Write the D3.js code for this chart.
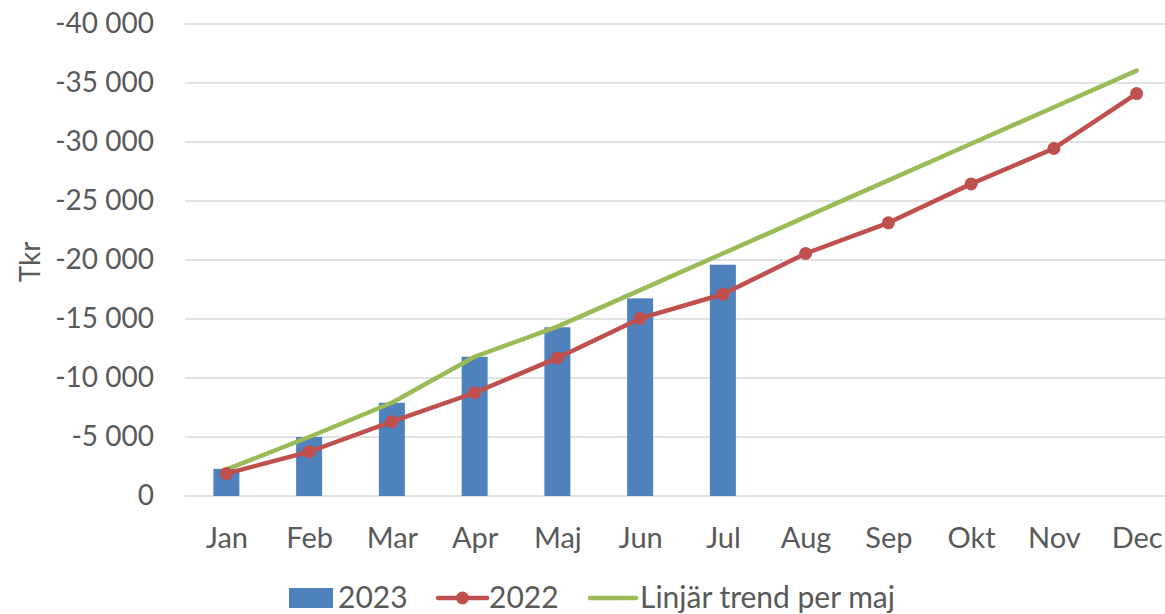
<!DOCTYPE html>
<html><head><meta charset="utf-8">
<script src="https://cdn.jsdelivr.net/npm/d3@7"></script>
<style>
html,body{margin:0;padding:0;background:#fff;}
svg{display:block;font-family:Lato,"Open Sans",sans-serif;}
</style></head>
<body>
<svg id="chart" width="1165" height="614"></svg>
<script>
const months = ["Jan","Feb","Mar","Apr","Maj","Jun","Jul","Aug","Sep","Okt","Nov","Dec"];
const values2023 = [-2300,-5000,-7900,-11800,-14300,-16750,-19600];
const values2022 = [-1900,-3750,-6300,-8750,-11700,-15050,-17100,-20550,-23150,-26450,-29450,-34100];
const trendValues = [-2250,-5000,-7900,-11800,-14350,-17450,-20550,-23650,-26750,-29850,-32950,-36050];
const yTicks = [0,-5000,-10000,-15000,-20000,-25000,-30000,-35000,-40000];
const seriesNames = ["2023","2022","Linjär trend per maj"];

const colors = {blue:"#4F81BD", red:"#C0504D", green:"#9BBB59", grid:"#d9d9d9", text:"#595959"};

const svg = d3.select("#chart");
const plotLeft = 185, plotRight = 1178, plotTop = 24, plotBottom = 496;

const x = d3.scalePoint().domain(months).range([plotLeft, plotRight]).padding(0.5);
const step = x.step();
const barW = step * 0.314;
const y = d3.scaleLinear().domain([0, -40000]).range([plotBottom, plotTop]);

const loc = d3.formatLocale({decimal:",", thousands:" ", grouping:[3], currency:["",""], minus:"-"});
const fmt = loc.format(",d");

// gridlines
svg.append("g").selectAll("line").data(yTicks).join("line")
  .attr("x1", plotLeft).attr("x2", 1165)
  .attr("y1", d => y(d)).attr("y2", d => y(d))
  .attr("stroke", colors.grid).attr("stroke-width", 1.5);

// y axis
const yAxis = svg.append("g").attr("transform", `translate(${plotLeft},0)`)
  .call(d3.axisLeft(y).tickValues(yTicks).tickFormat(fmt).tickSize(0).tickPadding(31));
yAxis.select(".domain").remove();
yAxis.selectAll("text").attr("fill", colors.text).style("font-size","28px").style("font-family","Lato");

// x axis
const xAxis = svg.append("g").attr("transform", `translate(0,${plotBottom})`)
  .call(d3.axisBottom(x).tickSize(0).tickPadding(31));
xAxis.select(".domain").remove();
xAxis.selectAll("text").attr("fill", colors.text).style("font-size","29px").style("font-family","Lato");

// y title
svg.append("text").attr("transform", `translate(40,${(plotTop+plotBottom)/2 + 2}) rotate(-90)`)
  .attr("text-anchor","middle").attr("fill", colors.text)
  .style("font-size","28px").text("Tkr");

// bars
svg.append("g").selectAll("rect").data(values2023).join("rect")
  .attr("x", (d,i) => x(months[i]) - barW/2)
  .attr("width", barW)
  .attr("y", d => y(d))
  .attr("height", d => y(0) - y(d))
  .attr("fill", colors.blue);

// trend line
const line = d3.line().x((d,i) => x(months[i])).y(d => y(d));
svg.append("path").datum(trendValues).attr("d", line)
  .attr("fill","none").attr("stroke", colors.green).attr("stroke-width", 4.5)
  .attr("stroke-linejoin","round").attr("stroke-linecap","round");

// 2022 line
svg.append("path").datum(values2022).attr("d", line)
  .attr("fill","none").attr("stroke", colors.red).attr("stroke-width", 4.5)
  .attr("stroke-linejoin","round").attr("stroke-linecap","round");
svg.append("g").selectAll("circle").data(values2022).join("circle")
  .attr("cx", (d,i) => x(months[i])).attr("cy", d => y(d)).attr("r", 6.5)
  .attr("fill", colors.red);

// legend
const lg = svg.append("g").attr("fill", colors.text);
const ly = 598;
function legendText(xp, t) {
  lg.append("text").attr("x", xp).attr("y", ly - 1)
    .attr("dy","0.36em").attr("fill", colors.text)
    .style("font-size","30px").text(t);
}
lg.append("rect").attr("x", 289).attr("y", ly-10).attr("width", 44).attr("height", 20).attr("fill", colors.blue);
legendText(338, seriesNames[0]);
lg.append("line").attr("x1", 438).attr("x2", 487).attr("y1", ly).attr("y2", ly)
  .attr("stroke", colors.red).attr("stroke-width", 4.5).attr("stroke-linecap","round");
lg.append("circle").attr("cx", 462.5).attr("cy", ly).attr("r", 6.5).attr("fill", colors.red);
legendText(489, seriesNames[1]);
lg.append("line").attr("x1", 590).attr("x2", 636).attr("y1", ly).attr("y2", ly)
  .attr("stroke", colors.green).attr("stroke-width", 4.5).attr("stroke-linecap","round");
legendText(640, seriesNames[2]);
</script>
</body></html>
